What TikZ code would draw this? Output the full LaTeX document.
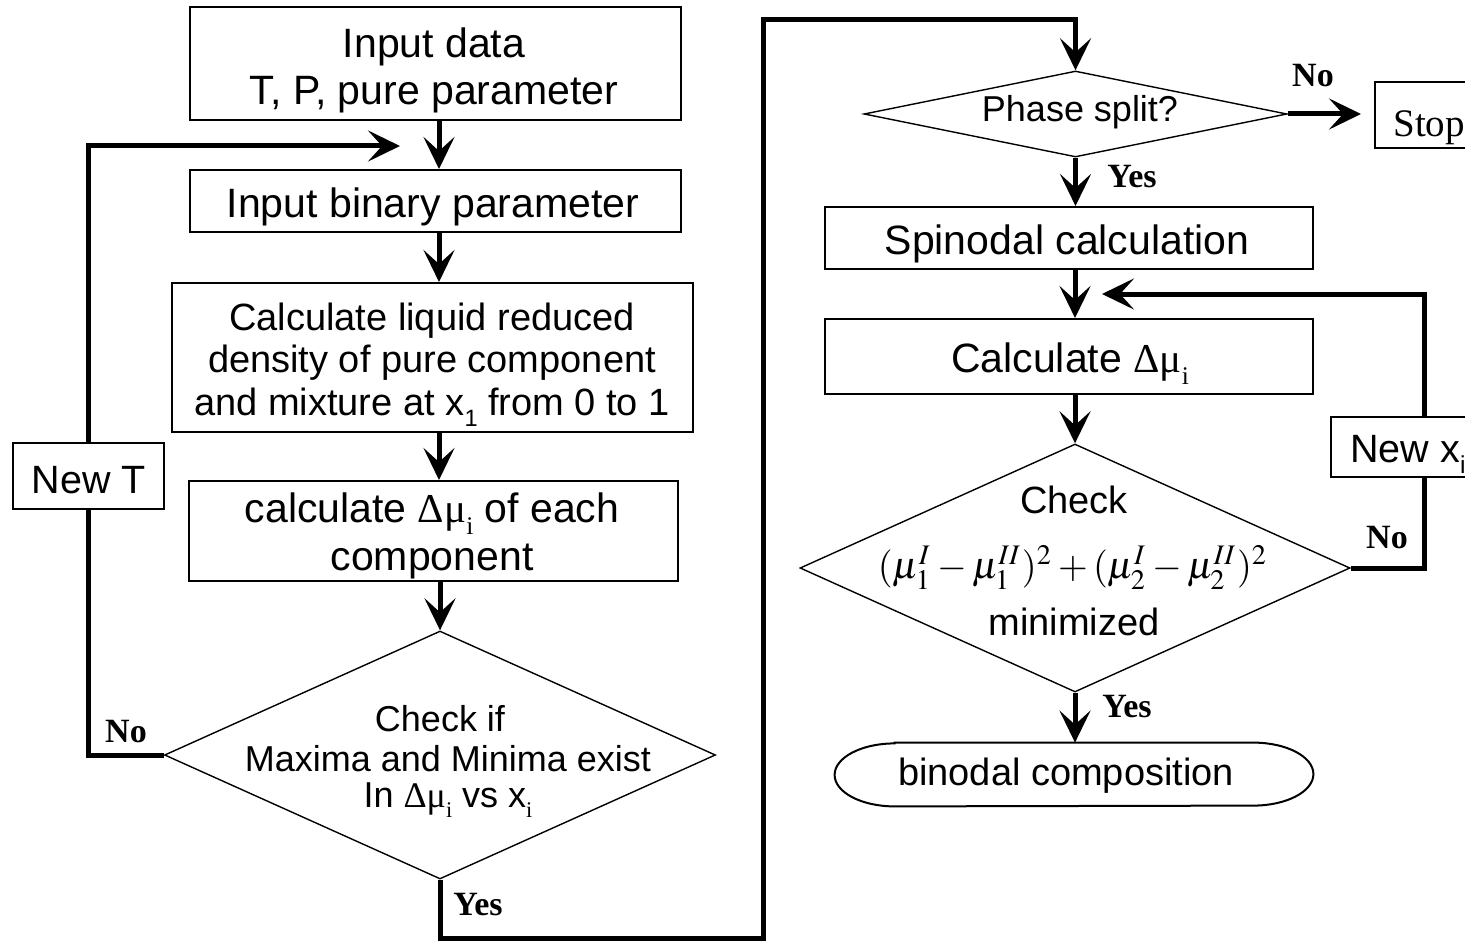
\documentclass[tikz,border=0pt]{standalone}
\usepackage{mathptmx}
\usepackage{fontspec}
\setmainfont{Liberation Sans}
\newfontfamily\serif{Liberation Serif}
\usepackage{graphicx}
\usetikzlibrary{shapes.geometric,arrows.meta}

% Greek symbols and lowered subscripts
\newcommand{\dmu}{{\serif Δμ}}
\newcommand{\lsub}[1]{\raisebox{-0.3em}{\scalebox{0.62}{#1}}}
\newcommand{\fs}[1]{\fontsize{#1}{#1}\selectfont}

\begin{document}
\begin{tikzpicture}[x=0.5pt,y=-0.5pt,
  box/.style={draw,line width=1pt,inner sep=0pt},
  dia/.style={draw,diamond,line width=0.7pt,inner sep=0pt},
  flow/.style={line width=2.5pt,-{Stealth[length=16pt,width=15.5pt,inset=7pt]}},
  link/.style={line width=2.5pt},
  txt/.style={inner sep=0pt,anchor=base},
  lab/.style={inner sep=0pt,anchor=base,font=\serif\bfseries\fs{17}}]

\useasboundingbox (0,0) rectangle (1465,941);

% ---- left column ----
\node[box,minimum width=245.75pt,minimum height=56.5pt] (b1) at (435.25,63.5) {};
\node[txt,font=\fs{20.5}] (b1t1) at (434,58) {Input data};
\node[txt,font=\fs{20.5}] (b1t2) at (434,105) {T, P, pure parameter};

\node[box,minimum width=245.75pt,minimum height=31pt] (b2) at (435.25,201) {};
\node[txt,font=\fs{20.5}] (b2t) at (433,218) {Input binary parameter};

\node[box,minimum width=260.7pt,minimum height=74.5pt] (b3) at (432.3,357.5) {};
\node[txt,font=\fs{19}] (b3t1) at (432,330) {Calculate liquid reduced};
\node[txt,font=\fs{19}] (b3t2) at (432,372) {density of pure component};
\node[txt,font=\fs{19}] (b3t3) at (432,415) {and mixture at x\lsub{1} from 0 to 1};

\node[box,minimum width=244.7pt,minimum height=50pt] (b4) at (433.3,531) {};
\node[txt,font=\fs{20.5}] (b4t1) at (432,522) {calculate \dmu\lsub{\serif i} of each};
\node[txt,font=\fs{20.5}] (b4t2) at (432,570) {component};

\node[dia,minimum width=275.5pt,minimum height=124pt] (d1) at (440,755) {};
\node[txt,font=\fs{18}] (d1t1) at (440,731) {Check if};
\node[txt,font=\fs{18}] (d1t2) at (448,771) {Maxima and Minima exist};
\node[txt,font=\fs{18}] (d1t3) at (448,807) {In \dmu\lsub{\serif i} vs x\lsub{\serif i}};

\node[box,fill=white,minimum width=75.5pt,minimum height=33pt] (newT) at (88.5,476) {};
\node[txt,font=\fs{19.75}] (newTt) at (89,493) {New T};

% ---- right column ----
\node[dia,minimum width=211.5pt,minimum height=43pt] (d2) at (1075.5,114) {};
\node[txt,font=\fs{18}] (d2t) at (1080,122) {Phase split?};

\node[box,minimum width=52.5pt,minimum height=33pt] (stop) at (1427.5,115) {};
\node[txt,anchor=base west,font=\serif\fs{19.5}] (stopt) at (1393,137) {Stop};

\node[box,minimum width=244pt,minimum height=31pt] (b5) at (1069,238) {};
\node[txt,font=\fs{20.5}] (b5t) at (1067,255) {Spinodal calculation};

\node[box,minimum width=244pt,minimum height=37.5pt] (b6) at (1069,356.5) {};
\node[txt,font=\fs{20.5}] (b6t) at (1070,372) {Calculate \dmu\lsub{\serif i}};

\node[dia,minimum width=275pt,minimum height=124pt] (d3) at (1075,568) {};
\node[txt,font=\fs{19}] (d3t1) at (1074,513) {Check};
\node[txt] (d3t2) at (1073,578)
  {\resizebox{195pt}{!}{$(\mu_1^{I}-\mu_1^{II})^2+(\mu_2^{I}-\mu_2^{II})^2$}};
\node[txt,font=\fs{19}] (d3t3) at (1074,635) {minimized};

\node[box,fill=white,minimum width=73pt,minimum height=30pt] (newx) at (1404,447) {};
\node[txt,anchor=base west,font=\fs{19.75}] (newxt) at (1350,462) {New x\lsub{i}};

% terminal: rectangle with half-elliptic ends
\node[inner sep=0pt,minimum width=239pt,minimum height=31.5pt] (ell) at (1074,774.5) {};
\draw[line width=1pt] ([xshift=30pt]ell.north west) -- ([xshift=-30pt]ell.north east)
  arc[start angle=90,end angle=-90,x radius=30pt,y radius=15.75pt]
  -- ([xshift=30pt]ell.south west)
  arc[start angle=270,end angle=90,x radius=30pt,y radius=15.75pt] -- cycle;
\node[txt,font=\fs{19}] (ellt) at (1066,785) {binodal composition};

% ---- routing points ----
\coordinate (colA) at (439,0);
\coordinate (colB) at (1075,0);
\coordinate (colR) at (1424,0);
\coordinate (inL) at (400,146);
\coordinate (inR) at (1102,294);
\coordinate (yr) at (763,938);
\coordinate (yt) at (763,20);

% ---- connectors ----
\draw[flow] (b1.south -| colA) -- (b2.north -| colA);
\draw[flow] (b2.south -| colA) -- (b3.north -| colA);
\draw[flow] (b3.south -| colA) -- (b4.north -| colA);
\draw[flow] (b4.south -| d1.north) -- (d1.north);

\draw[link] (d1.west) -| (newT.south);
\draw[flow] (newT.north) |- (inL);

\draw[flow] (d1.south) |- (yr) -- (yt) -| (d2.north);

\draw[flow,shorten >=6.5pt] (d2.east) -- (stop.west |- d2.east);
\draw[flow] (d2.south) -- (b5.north -| d2.south);
\draw[flow] (b5.south -| colB) -- (b6.north -| colB);
\draw[flow] (b6.south -| d3.north) -- (d3.north);

\draw[link] (d3.east) -| (newx.south -| colR);
\draw[flow] (newx.north -| colR) |- (inR);

\draw[flow] (d3.south) -- (ell.north -| d3.south);

% ---- branch labels ----
\node[lab] (noL) at (126,742) {No};
\node[lab] (yesL) at (478,915) {Yes};
\node[lab] (noS) at (1313,87) {No};
\node[lab] (yesS) at (1132,188) {Yes};
\node[lab] (noR) at (1387,548) {No};
\node[lab] (yesR) at (1127,717) {Yes};
\end{tikzpicture}
\end{document}
